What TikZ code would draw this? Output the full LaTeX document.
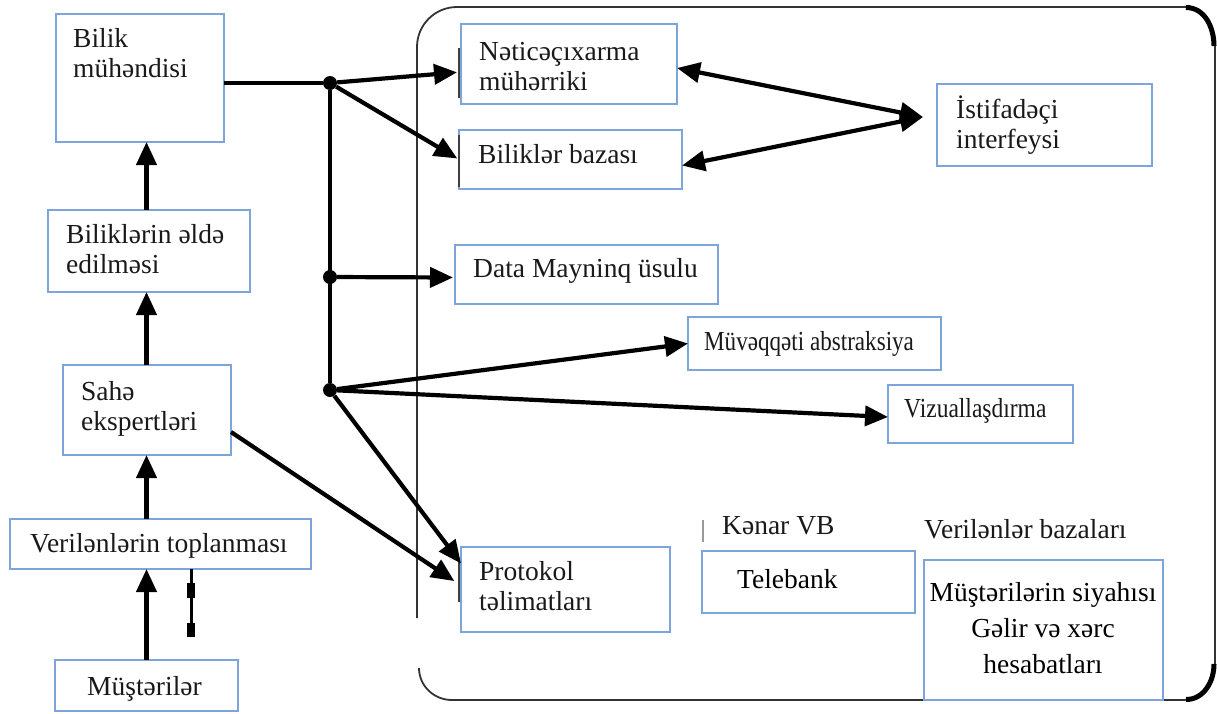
\documentclass[tikz,border=0pt]{standalone}
\usepackage{fontspec}
\setmainfont{Liberation Serif}
\usetikzlibrary{arrows.meta,fit}
\definecolor{boxblue}{RGB}{125,165,220}
\begin{document}
\begin{tikzpicture}[x=1pt,y=-1pt,
  box/.style={draw=boxblue, line width=1.4pt, inner sep=0pt, outer sep=0pt},
  txt/.style={inner sep=0pt, anchor=base west, align=left, font=\fontsize{27.5}{30}\selectfont, text=black!90},
  link/.style={line width=4.2pt},
  arr/.style={link, -{Triangle[length=23pt,width=20pt]}},
  arrtwo/.style={link, {Triangle[length=23pt,width=20pt]}-{Triangle[length=23pt,width=20pt]}},
  dot/.style={circle, fill=black, inner sep=0pt, minimum size=14pt},
  bar/.style={line width=2pt, black!75},
  frame/.style={line width=1.8pt, black!80}]

\useasboundingbox (0,0) rectangle (1217,713);

% outer frame of the system
\draw[frame] (417,618) -- (417,47) to[out=90,in=180] (457,7) -- (1186,7);
\draw[frame] (1215,46) -- (1215,664);
\draw[frame] (419,668) to[out=-90,in=180] (452,700) -- (1186,700);
\draw[line width=5pt] (1186,7.5) to[out=0,in=90] (1214,46);
\draw[line width=5pt] (1214,664) to[out=-90,in=0] (1186,699.5);

% boxes
\node[box, fit={(56,14) (224,142)}] (bm) {};
\node[box, fit={(48,210) (250,292)}] (be) {};
\node[box, fit={(63,365) (231,455)}] (se) {};
\node[box, fit={(10,519) (311,569)}] (vt) {};
\node[box, fit={(55,660) (238,711)}] (mu) {};
\node[box, fit={(461,24) (677,104)}] (nm) {};
\node[box, fit={(459,130) (682,189)}] (bb) {};
\node[box, fit={(455,245) (718,304)}] (dm) {};
\node[box, fit={(937,84) (1152,166)}] (iu) {};
\node[box, fit={(688,317) (941,370)}] (mv) {};
\node[box, fit={(888,385) (1073,443)}] (vz) {};
\node[box, fit={(461,547) (670,632)}] (pt) {};
\node[box, fit={(702,551) (915,613)}] (tb) {};
\node[box, fit={(924,560) (1163,700)}] (ms) {};

% dark edges on the left of some boxes
\draw[bar] (459,48) -- (459,98);
\draw[bar] (459,135) -- (459,187);
\draw[bar] (459,560) -- (459,602);
\draw[black!40, line width=1.5pt] (703,520) -- (703,542);

% labels (multi-line labels are placed by the baseline of their last line)
\node[txt] (t-bm) at (73,77) {Bilik\\mühəndisi};
\node[txt] (t-be) at (66,273) {Biliklərin əldə\\edilməsi};
\node[txt] (t-se) at (81,430) {Sahə\\ekspertləri};
\node[txt] (t-vt) at (30,552) {Verilənlərin toplanması};
\node[txt] (t-mu) at (87,695) {Müştərilər};
\node[txt] (t-nm) at (479,90) {Nəticəçıxarma\\mühərriki};
\node[txt] (t-bb) at (478,163) {Biliklər bazası};
\node[txt] (t-dm) at (473,277) {Data Mayninq üsulu};
\node[txt] (t-iu) at (956,148) {İstifadəçi\\interfeysi};
\node[txt] (t-mv) at (704,350) {\scalebox{0.84}[1]{Müvəqqəti abstraksiya}};
\node[txt] (t-vz) at (904,417) {\scalebox{0.855}[1]{Vizuallaşdırma}};
\node[txt] (t-pt) at (479,610) {Protokol\\təlimatları};
\node[txt] (t-kv) at (722,534) {Kənar VB};
\node[txt, text=black] (t-tb) at (737,588) {Telebank};
\node[txt] (t-vb) at (924,538) {Verilənlər bazaları};
\node[txt, text=black, anchor=base, align=center, font=\fontsize{27.5}{36}\selectfont] (t-ms) at (1043,673) {Müştərilərin siyahısı\\Gəlir və xərc\\hesabatları};

% junctions
\node[dot] (j1) at (330,83) {};
\node[dot] (j2) at (330,277) {};
\node[dot] (j3) at (330,390) {};
\draw[link] (bm.east |- j1) -- (j1);
\draw[link] (j1) -- (j3);

% arrows from the junctions
\draw[arr, shorten >=4pt] (j1) -- ([yshift=-8pt]nm.west);
\draw[arr, shorten >=2pt] (j1) -- (bb.west);
\draw[arr, shorten >=2pt] (j2) -- ([yshift=-3pt]dm.west);
\draw[arr] (j3) -- (mv.west);
\draw[arr] (j3) -- ([yshift=-3pt]vz.west);
\draw[arr] (j3) -- ([yshift=26pt]pt.west);
\draw[arr, shorten >=8pt] ([yshift=-22pt]se.east) -- ([yshift=4pt]pt.west);

% left column
\draw[arr] (mu.north) -- (mu.north |- vt.south);
\draw[arr] (vt.north -| mu.north) -- (mu.north |- se.south);
\draw[arr] (se.north -| mu.north) -- (mu.north |- be.south);
\draw[arr] (be.north -| mu.north) -- (mu.north |- bm.south);

% link with square markers
\draw[line width=3pt] (191,569) -- (191,630);
\fill (187,583) rectangle (195,598);
\fill (187,623) rectangle (195,637);

% user interface links
\coordinate (hub) at ([xshift=-14pt,yshift=8pt]iu.west);
\draw[arrtwo] ([yshift=-4pt]nm.east) -- (hub);
\draw[arrtwo] ([yshift=-6pt]bb.east) -- (hub);
\end{tikzpicture}
\end{document}
